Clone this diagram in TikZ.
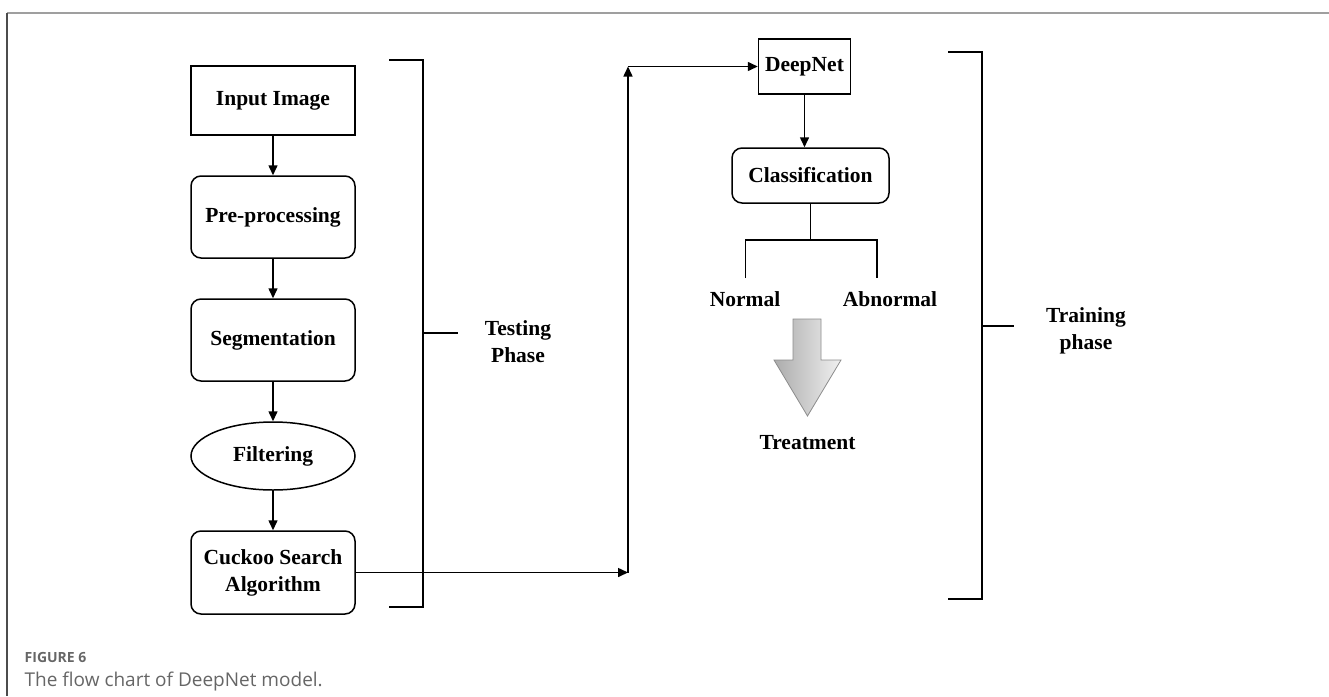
\documentclass[tikz,border=0pt]{standalone}
\usepackage{fontspec}
\setmainfont{Liberation Serif}
\newfontfamily\capfont{Open Sans}
\usetikzlibrary{shapes.geometric,arrows.meta,calc}
\begin{document}
\begin{tikzpicture}[x=1pt,y=-1pt,
  lbl/.style={font=\fontsize{21.5}{27}\selectfont\bfseries, align=center, inner sep=0pt},
  box/.style={lbl, draw, line width=1.5pt, minimum width=164pt, minimum height=82pt},
  rbox/.style={box, rounded corners=10pt},
  arr/.style={line width=1.5pt, -{Triangle[length=10pt,width=9pt]}},
  ln/.style={line width=1.5pt},
  captxt/.style={anchor=base west, inner sep=0pt, text=black!60},
]
\useasboundingbox (0,0) rectangle (1329,696);
% frame
\draw[line width=1.5pt, color=gray!75] (7,13) -- (1329,13);
\draw[line width=1.5pt, color=black!70] (7,13) -- (7,696);

% left column
\node[box, minimum height=69pt] (inp) at (273,100.5) {Input Image};
\node[rbox] (pre) at (273,217) {Pre-processing};
\node[rbox] (seg) at (273,340) {Segmentation};
\node[lbl, draw, ellipse, line width=1.5pt, minimum width=164pt, minimum height=68pt] (fil) at (273,456) {Filtering};
\node[rbox, minimum height=83pt] (cuc) at (273,572.5) {Cuckoo Search\\Algorithm};

\draw[arr] (inp) -- (pre);
\draw[arr] (pre) -- (seg);
\draw[arr] (seg) -- (fil);
\draw[arr] (fil) -- (cuc);

% testing bracket
\coordinate (tb1) at (389,60);
\coordinate (tb2) at (423,60);
\coordinate (tb3) at (423,607);
\coordinate (tb4) at (389,607);
\coordinate (tbm) at (423,333);
\coordinate (tbt) at (458,333);
\draw[ln] (tb1) -- (tb2) -- (tb3) -- (tb4);
\draw[ln] (tbm) -- (tbt);
\node[lbl] (tp) at (518,341.5) {Testing\\Phase};

% right column
\node[box, minimum width=92pt, minimum height=55pt] (dn) at (804.5,66.5) {DeepNet};
\node[rbox, minimum width=157pt, minimum height=55pt] (cl) at (810.5,175.5) {Classification};

% connectors from cuckoo to deepnet
\coordinate (c1) at (628,572.5);
\coordinate (c2) at (628,66.5);
\draw[arr] (cuc.east) -- (c1);
\draw[arr] (c1) -- (c2);
\draw[arr] (c2) -- (dn.west);

\draw[arr] (dn.south) -- (dn.south |- cl.north);

% branch
\coordinate (bm) at (810.5,240);
\coordinate (bl) at (745.5,240);
\coordinate (br) at (877,240);
\coordinate (bl2) at (745.5,278);
\coordinate (br2) at (877,278);
\draw[ln] (cl.south) -- (bm);
\draw[ln] (bl2) -- (bl) -- (br) -- (br2);
\node[lbl] (nrm) at (745,299) {Normal};
\node[lbl] (abn) at (890,299) {Abnormal};

% block arrow
\draw[color=gray!90, line width=0.8pt, left color=gray!65, right color=gray!12]
  (793,319) -- (821,319) -- (821,360) -- (841,360) -- (807.5,416) -- (774,360) -- (793,360) -- cycle;
\node[lbl] (tr) at (807.5,443) {Treatment};

% training bracket
\coordinate (rb1) at (948,52);
\coordinate (rb2) at (982,52);
\coordinate (rb3) at (982,599);
\coordinate (rb4) at (948,599);
\coordinate (rbm) at (982,326);
\coordinate (rbt) at (1014,326);
\draw[ln] (rb1) -- (rb2) -- (rb3) -- (rb4);
\draw[ln] (rbm) -- (rbt);
\node[lbl] (trp) at (1086,331) {Training\\phase};

% caption
\node[captxt, font=\capfont\fontsize{14}{14}\selectfont\bfseries] (fig) at (24.5,662) {FIGURE 6};
\node[captxt, font=\capfont\fontsize{19}{19}\selectfont] (cap) at (24.5,686) {The flow chart of DeepNet model.};
\end{tikzpicture}
\end{document}
